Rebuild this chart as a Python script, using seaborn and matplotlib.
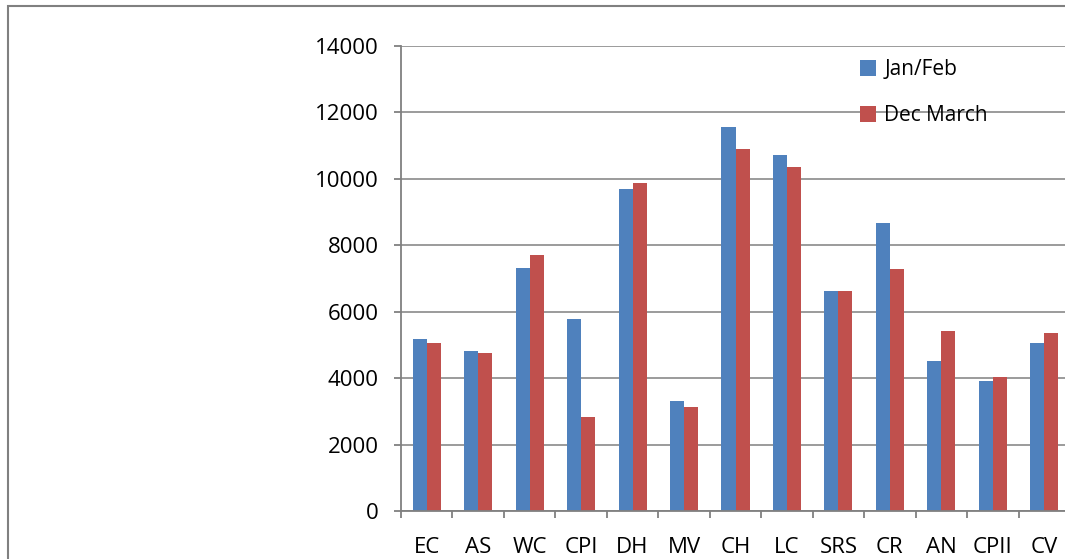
import matplotlib
matplotlib.use("Agg")
import matplotlib.pyplot as plt
import pandas as pd
import seaborn as sns
from matplotlib.patches import Rectangle

# dados
categorias = ['EC', 'AS', 'WC', 'CPI', 'DH', 'MV', 'CH', 'LC', 'SRS', 'CR', 'AN', 'CPII', 'CV']
jan_feb = [5170, 4810, 7320, 5780, 9690, 3320, 11550, 10710, 6620, 8670, 4510, 3910, 5050]
dec_march = [5050, 4760, 7700, 2840, 9870, 3130, 10890, 10350, 6620, 7280, 5410, 4030, 5350]
series = ['Jan/Feb', 'Dec March']
cores = ['#4F81BD', '#C0504D']

df = pd.DataFrame({
    'cat': categorias * 2,
    'valor': jan_feb + dec_march,
    'serie': [series[0]] * len(categorias) + [series[1]] * len(categorias),
})

sns.set_style("white")
plt.rcParams['font.family'] = ['Open Sans', 'DejaVu Sans']
plt.rcParams['text.color'] = 'black'
cinza = '#808080'

fig = plt.figure(figsize=(10.65, 5.59), dpi=100)
ax = fig.add_axes([401 / 1065, 1 - 511 / 559, 669 / 1065, 465 / 559])

sns.barplot(data=df, x='cat', y='valor', hue='serie', palette=cores, saturation=1,
            width=0.545, gap=0, linewidth=0, ax=ax, order=categorias, hue_order=series)

ax.set_xlim(-0.5, len(categorias) - 0.5)
ax.set_ylim(0, 14000)
ax.set_yticks(range(0, 14001, 2000))
ax.set_xlabel('')
ax.set_ylabel('')
ax.yaxis.grid(True, color=cinza, linewidth=1.1)
ax.set_axisbelow(True)

for s in ['top', 'right']:
    ax.spines[s].set_visible(False)
for s in ['left', 'bottom']:
    ax.spines[s].set_color(cinza)
    ax.spines[s].set_linewidth(1.3)

ax.tick_params(axis='y', length=5, width=1.3, color=cinza, pad=11, labelsize=16,
               labelcolor='black', direction='out', left=True)
ax.tick_params(axis='x', which='major', length=0, pad=19, labelsize=16, labelcolor='black')
ax.set_xticks([i - 0.5 for i in range(len(categorias) + 1)], minor=True)
ax.tick_params(axis='x', which='minor', length=5, width=1.3, color=cinza, direction='out', bottom=True)

leg = ax.legend(loc='upper left', bbox_to_anchor=(852 / 1065, 1 - 51 / 559), bbox_transform=fig.transFigure,
                frameon=False, fontsize=15, handlelength=0.75, handleheight=0.75, handletextpad=0.4,
                labelspacing=1.2, borderaxespad=0)
for t in leg.get_texts():
    t.set_color('black')

# moldura externa do gráfico
fig.patches.append(Rectangle((8 / 1065, -0.1), 1.2, 1.1 - 6 / 559, transform=fig.transFigure,
                             fill=False, edgecolor=cinza, linewidth=1.5))

fig.savefig('out.png', dpi=100)
